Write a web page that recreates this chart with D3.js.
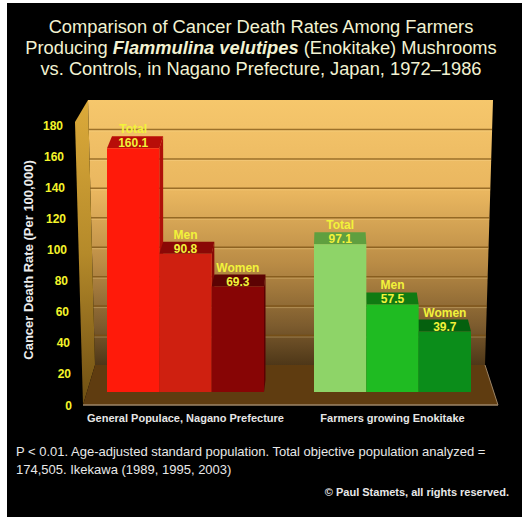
<!DOCTYPE html>
<html><head><meta charset="utf-8">
<script src="https://cdn.jsdelivr.net/npm/d3@7"></script>
<style>
html,body{margin:0;padding:0;background:#fff;}
svg{display:block;}
text{font-family:"Liberation Sans",Arial,sans-serif;}
</style></head>
<body>
<script>
// ---- data ----
const groups = ["General Populace, Nagano Prefecture", "Farmers growing Enokitake"];
const seriesNames = ["Total", "Men", "Women"];
const generalValues = [160.1, 90.8, 69.3];
const farmerValues = [97.1, 57.5, 39.7];
const yTicks = [0, 20, 40, 60, 80, 100, 120, 140, 160, 180];
const gridValues = [20, 40, 60, 80, 100, 120, 140, 160];
const titleLines = [
  [{t:"Comparison of Cancer Death Rates Among Farmers"}],
  [{t:"Producing "},{t:"Flammulina velutipes",b:true},{t:" (Enokitake) Mushrooms"}],
  [{t:"vs. Controls, in Nagano Prefecture, Japan, 1972\u20131986"}]
];
const yTitle = "Cancer Death Rate (Per 100,000)";
const footLines = ["P < 0.01. Age-adjusted standard population. Total objective population analyzed =",
                   "174,505. Ikekawa (1989, 1995, 2003)"];
const copyright = "\u00A9 Paul Stamets, all rights reserved.";
const frontColors = [["#ff1a0a","#cf2010","#870505"],["#8ed468","#1fbb22","#0b8d1a"]];
const topColors = [["#b80d08","#8a0806","#5c0303"],["#5f9f3f","#107a12","#05600e"]];
const sideColors = [["#b01008","#8a0806","#5c0303"],["#5a963a","#0f7012","#05580d"]];

const W = 527, H = 525;
const svg = d3.select("body").append("svg").attr("width", W).attr("height", H);
const defs = svg.append("defs");

// background
svg.append("rect").attr("x",7).attr("y",3).attr("width",515).attr("height",514).attr("fill","#000");

// ---- scales ----
const yFront = d3.scaleLinear().domain([0,180]).range([405,125]);
const yBack  = d3.scaleLinear().domain([0,180]).range([365,100]);
const yBar   = d3.scaleLinear().domain([0,180]).range([392,118]);
const xBackL = d3.scaleLinear().domain([0,180]).range([95,88]);
const xBackR = d3.scaleLinear().domain([0,180]).range([485,493]);
const xLabelR = d3.scaleLinear().domain([0,180]).range([72,63]);
const xGroup = d3.scaleBand().domain(groups).range([107,471]).paddingInner(0.2415).paddingOuter(0);
const xSeries = d3.scaleBand().domain(seriesNames).range([0, xGroup.bandwidth()]).padding(0);

const poly = d3.line();

// gradients
const gWall = defs.append("linearGradient").attr("id","gWall").attr("x1",0).attr("y1",0).attr("x2",0).attr("y2",1);
[[0,"#f6c76c"],[0.35,"#e9b65f"],[0.62,"#b98b45"],[0.85,"#7d5c2e"],[1,"#4e3718"]].forEach(s=>gWall.append("stop").attr("offset",s[0]).attr("stop-color",s[1]));
const gSide = defs.append("linearGradient").attr("id","gSide").attr("x1",0).attr("y1",0).attr("x2",0).attr("y2",1);
[[0,"#dcaa3a"],[0.5,"#b58a2a"],[1,"#6e4e12"]].forEach(s=>gSide.append("stop").attr("offset",s[0]).attr("stop-color",s[1]));

// back wall
svg.append("path").attr("d", poly([[xBackL(180),yBack(180)],[xBackR(180),yBack(180)],[xBackR(0),yBack(0)],[xBackL(0),yBack(0)]])+"Z")
  .attr("fill","url(#gWall)");
// side wall
svg.append("path").attr("d", poly([[xBackL(180),yBack(180)],[75,yFront(180)-3],[83,yFront(0)],[xBackL(0),yBack(0)]])+"Z")
  .attr("fill","url(#gSide)");
// gridlines
gridValues.forEach(v=>{
  svg.append("line").attr("x1",xBackL(v)).attr("x2",xBackR(v)).attr("y1",yBack(v)).attr("y2",yBack(v))
    .attr("stroke","rgba(120,78,15,0.7)").attr("stroke-width",1.5);
  svg.append("line").attr("x1",xBackL(v)).attr("x2",xBackR(v)).attr("y1",yBack(v)+1.5).attr("y2",yBack(v)+1.5)
    .attr("stroke","rgba(255,225,160,0.3)").attr("stroke-width",1);
});
// floor
svg.append("path").attr("d", poly([[xBackL(0),yBack(0)],[xBackR(0),yBack(0)],[498,yFront(0)],[83,yFront(0)]])+"Z")
  .attr("fill","#5f3c10");
svg.append("line").attr("x1",83).attr("x2",498).attr("y1",yFront(0)).attr("y2",yFront(0)).attr("stroke","#9c8466").attr("stroke-width",1.5);
svg.append("line").attr("x1",xBackR(0)).attr("x2",498).attr("y1",yBack(0)).attr("y2",yFront(0)).attr("stroke","#9c8466").attr("stroke-width",1);

// ---- bars ----
const vx = 333, k = 0.022, depth = 12;
const bars = [];
groups.forEach((g,gi)=>{
  const vals = gi===0 ? generalValues : farmerValues;
  seriesNames.forEach((s,si)=>{
    const x0 = xGroup(g)+xSeries(s), x1 = x0 + xSeries.bandwidth();
    bars.push({gi,si,s,v:vals[si],x0,x1,yt:yBar(vals[si]),yb:yBar(0)});
  });
});
const bx = x => x + k*(vx - x);
bars.forEach(b=>{
  if (b.x1 < vx) {
    svg.append("path").attr("d", poly([[b.x1,b.yt],[bx(b.x1),b.yt-depth],[bx(b.x1),b.yb-depth],[b.x1,b.yb]])+"Z")
      .attr("fill", sideColors[b.gi][b.si]);
  }
  if (b.x0 > vx) {
    svg.append("path").attr("d", poly([[b.x0,b.yt],[bx(b.x0),b.yt-depth],[bx(b.x0),b.yb-depth],[b.x0,b.yb]])+"Z")
      .attr("fill", sideColors[b.gi][b.si]);
  }
  svg.append("path").attr("d", poly([[b.x0,b.yt],[b.x1,b.yt],[bx(b.x1),b.yt-depth],[bx(b.x0),b.yt-depth]])+"Z")
    .attr("fill", topColors[b.gi][b.si]);
});
bars.forEach(b=>{
  svg.append("rect").attr("x",b.x0).attr("y",b.yt).attr("width",b.x1-b.x0).attr("height",b.yb-b.yt)
    .attr("fill", frontColors[b.gi][b.si]);
});
bars.forEach(b=>{
  const cx = (b.x0+b.x1)/2;
  svg.append("text").attr("x",cx).attr("y",b.yt-15).attr("text-anchor","middle")
    .attr("font-size",12).attr("font-weight","bold").attr("fill","#f2f23a").text(b.s);
  svg.append("text").attr("x",cx).attr("y",b.yt-1).attr("text-anchor","middle")
    .attr("font-size",12).attr("font-weight","bold").attr("fill","#f2f23a").text(d3.format(".1f")(b.v));
});

// ---- y tick labels ----
svg.append("g").selectAll("text").data(yTicks).join("text")
  .attr("x", d=>xLabelR(d)).attr("y", d=>yFront(d)+4.5).attr("text-anchor","end")
  .attr("font-size",12).attr("font-weight","bold").attr("fill","#f4f42a").text(d=>d);

// y title
svg.append("text").attr("transform","translate(33,260) rotate(-90)").attr("text-anchor","middle")
  .attr("font-size",13).attr("font-weight","bold").attr("fill","#ececec").text(yTitle);

// x group labels
svg.append("g").selectAll("text").data(groups).join("text")
  .attr("x", d=>xGroup(d)+xGroup.bandwidth()/2).attr("y",422).attr("text-anchor","middle")
  .attr("font-size",11).attr("font-weight","bold").attr("fill","#e6e6e6").text(d=>d);

// title
titleLines.forEach((line,i)=>{
  const t = svg.append("text").attr("x",261).attr("y",33+i*21).attr("text-anchor","middle")
    .attr("font-size",18.3).attr("fill","#f2f2d2");
  line.forEach(p=>{
    const ts = t.append("tspan").text(p.t);
    if (p.b) ts.attr("font-weight","bold").attr("font-style","italic");
  });
});

// footnote
footLines.forEach((l,i)=>{
  svg.append("text").attr("x",16).attr("y",456+i*18).attr("font-size",13).attr("fill","#e8e8e8").text(l);
});
svg.append("text").attr("x",509).attr("y",496).attr("text-anchor","end").attr("font-size",11)
  .attr("font-weight","bold").attr("fill","#e8e8e8").text(copyright);
</script>
</body></html>
